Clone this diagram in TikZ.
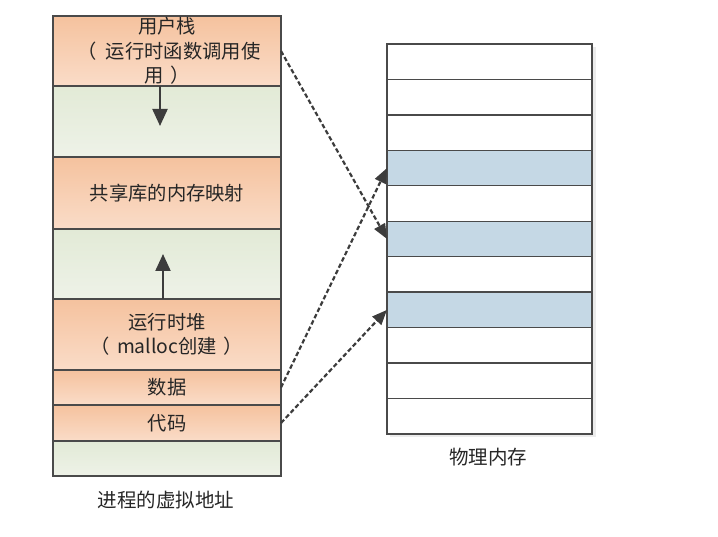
\documentclass[tikz,border=0pt]{standalone}
\usepackage{fontspec}
\setmainfont{Noto Sans CJK SC}[Kerning=Off]
\usetikzlibrary{arrows.meta,shadows}
\definecolor{bord}{HTML}{4A4A4A}
\definecolor{orT}{HTML}{F5C29E}
\definecolor{orB}{HTML}{FADCC8}
\definecolor{grT}{HTML}{E2EAD6}
\definecolor{grB}{HTML}{EEF2E8}
\definecolor{blu}{HTML}{C5D8E5}
\definecolor{arr}{HTML}{3C3C3C}
\begin{document}
\begin{tikzpicture}[x=1pt,y=-1pt,
  segbox/.style={draw=bord,line width=1.4pt,rectangle,anchor=north west,inner sep=0pt,outer sep=0pt,
    minimum width=228pt,align=center,text=black!85,font=\fontsize{19.3}{24.5}\selectfont},
  orseg/.style={segbox,top color=orT,bottom color=orB},
  grseg/.style={segbox,top color=grT,bottom color=grB},
  memrow/.style={draw=bord,line width=1.4pt,rectangle,anchor=north west,inner sep=0pt,outer sep=0pt,
    minimum width=205pt,minimum height=35.45pt,fill=white},
  bluerow/.style={memrow,fill=blu},
  maparrow/.style={draw=arr,line width=2.2pt,dash pattern=on 4.5pt off 2.5pt,-{Triangle[length=15pt,width=12pt]}},
  growarrow/.style={draw=arr,line width=2.2pt,-{Triangle[length=17pt,width=15pt]}},
  lbl/.style={font=\fontsize{19.5}{22}\selectfont,text=black!85}
]
\useasboundingbox (0,0) rectangle (718,537);
% left column
\node[orseg,minimum height=70pt] (stack) at (53,16) {用户栈\\\hspace{4pt}（\hspace{9pt}运行时函数调用使\\用\hspace{7pt}）};
\node[grseg,minimum height=71pt] (g1) at (53,86) {};
\node[orseg,minimum height=72pt] (shlib) at (53,157) {共享库的内存映射};
\node[grseg,minimum height=70pt] (g2) at (53,229) {};
\node[orseg,minimum height=71pt] (heap) at (53,299) {运行时堆\\（\hspace{7pt}malloc创建\hspace{7pt}）};
\node[orseg,minimum height=35pt] (data) at (53,370) {数据};
\node[orseg,minimum height=36pt] (code) at (53,405) {代码};
\node[grseg,minimum height=35pt] (g3) at (53,441) {};
\node[lbl] (vlabel) at (166,500) {进程的虚拟地址};
% right column
\fill[black!8] (390,47) rectangle (596,437);
\foreach \i/\st in {1/memrow,2/memrow,3/memrow,4/bluerow,5/memrow,6/bluerow,7/memrow,8/bluerow,9/memrow,10/memrow,11/memrow}{
  \node[\st] (r\i) at (387,{44+(\i-1)*35.45}) {};
}
\node[lbl] (plabel) at (488,457) {物理内存};
% growth arrows
\coordinate (dtip) at (160,126);
\coordinate (utip) at (163,254);
\draw[growarrow] (stack.south -| dtip) -- (dtip);
\draw[growarrow] (heap.north -| utip) -- (utip);
% mapping arrows
\draw[maparrow] (stack.east) -- (r6.west);
\draw[maparrow] (data.east) -- (r4.west);
\draw[maparrow] (code.east) -- (r8.west);
\end{tikzpicture}
\end{document}
